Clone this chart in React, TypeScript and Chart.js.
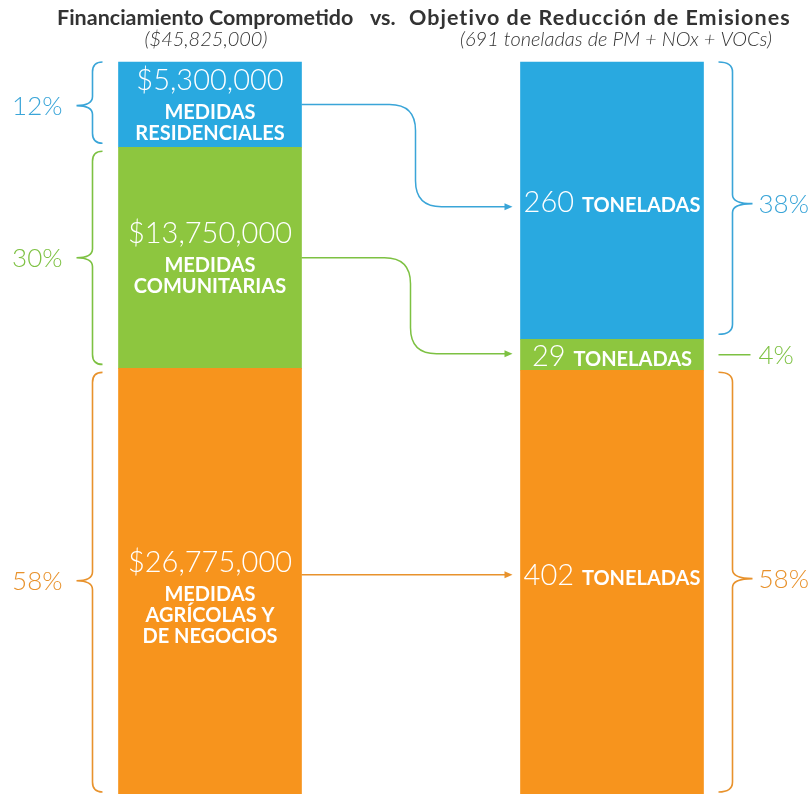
import React, { useEffect, useRef } from "react";
import { Chart, registerables } from "chart.js";

Chart.register(...registerables);

// ---------- DATA ----------
const barCategories = ["Financiamiento Comprometido", "Objetivo de Reducción de Emisiones"];
const segmentNames = ["Medidas Agrícolas y de Negocios", "Medidas Comunitarias", "Medidas Residenciales"];
const fundingValues = [26775000, 13750000, 5300000];
const emissionValues = [402, 29, 260];
const fundingTotal = 45825000;
const emissionTotal = 691;
const fundingAmountLabels = ["$26,775,000", "$13,750,000", "$5,300,000"];
const fundingNameLabels = [
  ["MEDIDAS", "AGRÍCOLAS Y", "DE NEGOCIOS"],
  ["MEDIDAS", "COMUNITARIAS"],
  ["MEDIDAS", "RESIDENCIALES"],
];
const emissionAmountLabels = ["402", "29", "260"];
const emissionUnit = "TONELADAS";
const fundingPercentLabels = ["58%", "30%", "12%"];
const emissionPercentLabels = ["58%", "4%", "38%"];
const titleLeft = "Financiamiento Comprometido";
const titleVs = "vs.";
const titleRight = "Objetivo de Reducción de Emisiones";
const subtitleLeft = "($45,825,000)";
const subtitleRight = "(691 toneladas de PM + NOx + VOCs)";

// ---------- STYLE ----------
const barColors = ["#F7941D", "#8DC63F", "#29A9E0"];
const textColors = ["#E8922C", "#7DC142", "#3AA5D8"];
const FONT = "Lato, 'Open Sans', sans-serif";
const leftBlockShift = [13, 0, 0];
const rightLabelShift = [-11, 0, 0];
const leftPctShift = [-3, 0, 1];
const rightPctShift = [-6, 0, 3];
const connectorStartShift = [-9, 0, 0];
const connectorEndShift = [-8, -1, 6];
const connectorMidX = [0, 109, 114];

const fundingPct = fundingValues.map((v) => (v / fundingTotal) * 100);
const emissionPct = emissionValues.map((v) => (v / emissionTotal) * 100);

function drawBrace(ctx: CanvasRenderingContext2D, xe: number, xs: number, xt: number, top: number, bottom: number, tip: number) {
  const r = 10;
  const rt = 9;
  ctx.beginPath();
  ctx.moveTo(xe, top);
  ctx.quadraticCurveTo(xs, top, xs, top + r);
  ctx.lineTo(xs, tip - rt);
  ctx.quadraticCurveTo(xs, tip, xt, tip);
  ctx.quadraticCurveTo(xs, tip, xs, tip + rt);
  ctx.lineTo(xs, bottom - r);
  ctx.quadraticCurveTo(xs, bottom, xe, bottom);
  ctx.stroke();
}

function arrowHead(ctx: CanvasRenderingContext2D, x: number, y: number) {
  ctx.beginPath();
  ctx.moveTo(x, y);
  ctx.lineTo(x - 8, y - 3.5);
  ctx.lineTo(x - 8, y + 3.5);
  ctx.closePath();
  ctx.fill();
}

const annotations = {
  id: "annotations",
  afterDatasetsDraw(chart: any) {
    const ctx: any = chart.ctx;
    const metas = [0, 1, 2].map((i) => chart.getDatasetMeta(i));
    const L = metas.map((m: any) => m.data[0]);
    const R = metas.map((m: any) => m.data[1]);
    const half0 = L[0].width / 2;
    const half1 = R[0].width / 2;
    const lx = L[0].x, rx = R[0].x;
    const lLeft = lx - half0, lRight = lx + half0;
    const rLeft = rx - half1, rRight = rx + half1;
    const bottomLimit = 792;
    ctx.save();

    // titles
    ctx.fillStyle = "#333333";
    ctx.textBaseline = "alphabetic";
    ctx.font = `bold 21.5px ${FONT}`;
    ctx.textAlign = "left";
    const tlx = lx - 153;
    ctx.fillText(titleLeft, tlx, 25);
    ctx.fillText(titleVs, tlx + 313, 25);
    const rw = ctx.measureText(titleRight).width;
    const target = 381;
    const extra = Math.max(0, (target - rw) / (titleRight.length - 1));
    if ("letterSpacing" in ctx) ctx.letterSpacing = `${extra.toFixed(2)}px`;
    ctx.fillText(titleRight, tlx + 352, 25);
    if ("letterSpacing" in ctx) ctx.letterSpacing = "0px";
    ctx.font = `italic 300 20px ${FONT}`;
    ctx.textAlign = "center";
    ctx.fillText(subtitleLeft, lx - 4, 46);
    ctx.fillText(subtitleRight, rx + 4, 46);

    for (let i = 0; i < 3; i++) {
      const seg = L[i];
      const segR = R[i];
      const lTop = Math.min(seg.y, seg.base), lBot = Math.max(seg.y, seg.base);
      const rTop = Math.min(segR.y, segR.base), rBot = Math.max(segR.y, segR.base);
      const lc = (lTop + lBot) / 2;
      const rc = (rTop + rBot) / 2;

      // left text block
      const lines = fundingNameLabels[i];
      const n = lines.length;
      const y0 = lc - (8 + (n - 1) * 21) / 2 + leftBlockShift[i];
      ctx.fillStyle = "#FFFFFF";
      ctx.textAlign = "center";
      ctx.font = `300 29px ${FONT}`;
      ctx.fillText(fundingAmountLabels[i], lx, y0);
      ctx.font = `bold 20px ${FONT}`;
      lines.forEach((t, k) => ctx.fillText(t, lx, y0 + 29 + k * 21));

      // right text
      const ry = rc + 11 + rightLabelShift[i];
      ctx.font = `300 29px ${FONT}`;
      const nw = ctx.measureText(emissionAmountLabels[i] + " ").width;
      ctx.font = `bold 20px ${FONT}`;
      const uw = ctx.measureText(emissionUnit).width;
      const sx = rx - (nw + uw) / 2;
      ctx.textAlign = "left";
      ctx.font = `300 29px ${FONT}`;
      ctx.fillText(emissionAmountLabels[i], sx, ry);
      ctx.font = `bold 20px ${FONT}`;
      ctx.fillText(emissionUnit, sx + nw, ry);

      // left brace & percent
      ctx.strokeStyle = textColors[i];
      ctx.fillStyle = textColors[i];
      ctx.lineWidth = 1.6;
      const ltip = lc + leftPctShift[i];
      drawBrace(ctx, lLeft - 16, lLeft - 26, lLeft - 42, lTop + (i === 2 ? 0 : 4), Math.min(lBot - 4, bottomLimit), ltip);
      ctx.font = `300 26px ${FONT}`;
      ctx.textAlign = "right";
      ctx.fillText(fundingPercentLabels[i], lLeft - 56, ltip + 9);

      // right brace / line & percent
      const rtip = rc + rightPctShift[i];
      if (rBot - rTop > 60) {
        drawBrace(ctx, rRight + 15, rRight + 29, rRight + 49, rTop + (i === 2 ? 0 : 2), Math.min(rBot - 5, bottomLimit), rtip);
      } else {
        ctx.beginPath();
        ctx.moveTo(rRight + 15, rtip);
        ctx.lineTo(rRight + 47, rtip);
        ctx.stroke();
      }
      ctx.textAlign = "left";
      ctx.fillText(emissionPercentLabels[i], rRight + 55, rtip + 9);

      // connector
      const sy = lc + connectorStartShift[i];
      const ey = rc + connectorEndShift[i];
      const tipX = rLeft - 8;
      ctx.lineWidth = 1.5;
      ctx.beginPath();
      ctx.moveTo(lRight, sy);
      if (Math.abs(ey - sy) < 2) {
        ctx.lineTo(tipX - 6, sy);
      } else {
        const mx = lRight + connectorMidX[i];
        const cr = 26;
        ctx.lineTo(mx - cr, sy);
        ctx.quadraticCurveTo(mx, sy, mx, sy + cr);
        ctx.lineTo(mx, ey - cr);
        ctx.quadraticCurveTo(mx, ey, mx + cr, ey);
        ctx.lineTo(tipX - 6, ey);
      }
      ctx.stroke();
      arrowHead(ctx, tipX, Math.abs(ey - sy) < 2 ? sy : ey);
    }
    ctx.restore();
  },
};

export default function App() {
  const ref = useRef<HTMLCanvasElement | null>(null);
  useEffect(() => {
    if (!ref.current) return;
    const chart = new Chart(ref.current, {
      type: "bar",
      data: {
        labels: barCategories,
        datasets: [0, 1, 2].map((i) => ({
          label: segmentNames[i],
          data: [fundingPct[i], emissionPct[i]],
          backgroundColor: barColors[i],
          borderWidth: 0,
          barThickness: 183,
          clip: false as any,
        })),
      },
      options: {
        responsive: false,
        animation: false,
        devicePixelRatio: 1,
        layout: { padding: { left: 210, right: 199, top: 62, bottom: 1 } },
        scales: {
          x: { type: "category", stacked: true, offset: false, display: false, grid: { display: false } },
          y: { stacked: true, min: 0, max: 100, display: false, grid: { display: false } },
        },
        plugins: {
          legend: { display: false },
          tooltip: { enabled: false },
          title: { display: false },
        },
      },
      plugins: [annotations],
    });
    return () => chart.destroy();
  }, []);
  return (
    <div style={{ position: "fixed", left: 0, top: 0, width: 811, height: 794, overflow: "hidden", background: "#FFFFFF" }}>
      <canvas ref={ref} width={811} height={800} style={{ display: "block", width: 811, height: 800 }} />
    </div>
  );
}
